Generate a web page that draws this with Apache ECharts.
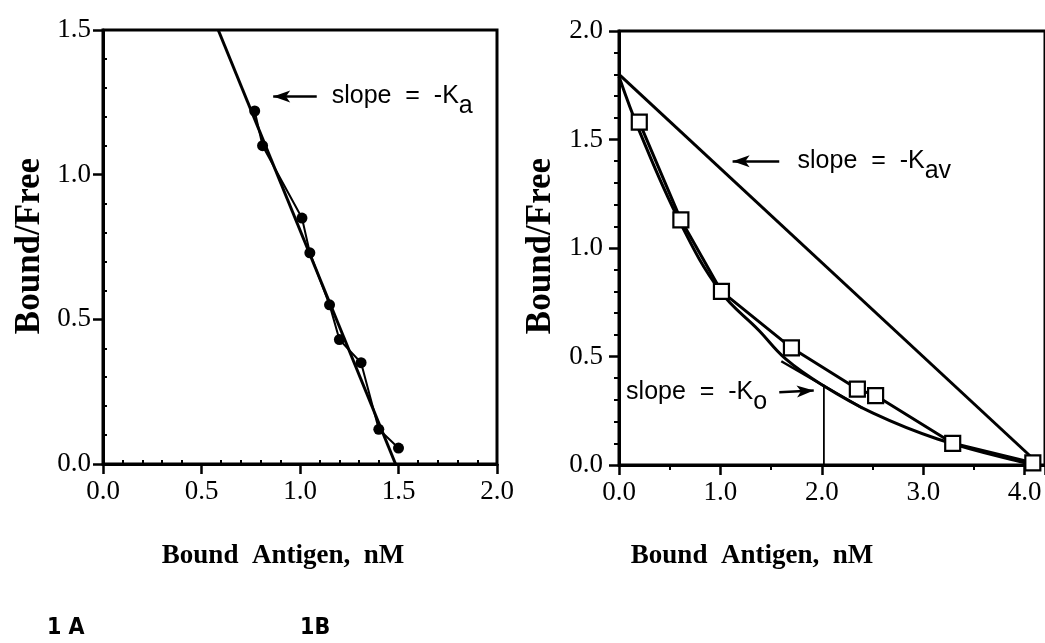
<!DOCTYPE html>
<html>
<head>
<meta charset="utf-8">
<script src="https://cdn.jsdelivr.net/npm/echarts@6/dist/echarts.min.js"></script>
<style>
html,body{margin:0;padding:0;background:#fff;}
#c{width:1045px;height:643px;}
</style>
</head>
<body>
<div id="c"></div>
<script>
// ---------- Panel 1A data ----------
const aPointsX = [0.77, 0.81, 1.01, 1.05, 1.15, 1.20, 1.31, 1.40, 1.50];
const aPointsY = [1.22, 1.10, 0.85, 0.73, 0.55, 0.43, 0.35, 0.12, 0.055];
const aFitX = [0.585, 1.485];
const aFitY = [1.5, 0.0];
const aXTicks = ['0.0', '0.5', '1.0', '1.5', '2.0'];
const aYTicks = ['0.0', '0.5', '1.0', '1.5'];

// ---------- Panel 1B data ----------
const bPointsX = [0.20, 0.61, 1.01, 1.70, 2.35, 2.53, 3.29, 4.08];
const bPointsY = [1.58, 1.13, 0.80, 0.54, 0.35, 0.32, 0.10, 0.01];
const bCurveX = [0.0, 0.2, 0.6, 1.0, 1.38, 1.64, 2.0, 2.5, 3.14, 4.0, 4.15];
const bCurveY = [1.79, 1.54, 1.12, 0.80, 0.62, 0.49, 0.37, 0.24, 0.12, 0.01, 0.0];
const bKavX = [0.0, 4.15];
const bKavY = [1.80, 0.0];
const bTangentX = [1.60, 2.40];
const bTangentY = [0.478, 0.262];
const bVertX = [2.02, 2.02];
const bVertY = [0.37, 0.0];
const bXTicks = ['0.0', '1.0', '2.0', '3.0', '4.0'];
const bYTicks = ['0.0', '0.5', '1.0', '1.5', '2.0'];

// ---------- annotations (data coordinates) ----------
const aArrow = [[0.864, 1.27], [1.085, 1.27]];
const aLabelPos = [1.161, 1.27];
const bKavArrow = [[1.12, 1.40], [1.58, 1.40]];
const bKavLabelPos = [1.76, 1.40];
const bKoArrow = [[1.92, 0.343], [1.58, 0.335]];
const bKoLabelPos = [0.07, 0.335];

const zip = (xs, ys) => xs.map((x, i) => [x, ys[i]]);
const fmt = (arr, step) => v => {
  const i = Math.round(v / step);
  return (Math.abs(v - i * step) < 1e-6 && arr[i] !== undefined) ? arr[i] : '';
};

const serif = 'Liberation Serif';
const sans = 'Liberation Sans';
const lineStyle = {color: '#000', width: 3};
const labelStyle = {color: '#000', fontFamily: serif, fontSize: 27};

const chart = echarts.init(document.getElementById('c'), null, {renderer: 'canvas'});

const option = {
  animation: false,
  backgroundColor: '#fff',
  grid: [
    {left: 103, top: 30, width: 394, height: 434, show: true, borderColor: '#000', borderWidth: 3, containLabel: false},
    {left: 619, top: 31, width: 429.5, height: 434, show: true, borderColor: '#000', borderWidth: 3, containLabel: false}
  ],
  xAxis: [
    {gridIndex: 0, type: 'value', position: 'bottom', min: 0, max: 2, interval: 0.5,
      axisLine: {lineStyle: lineStyle}, splitLine: {show: false},
      axisTick: {show: true, length: 10, lineStyle: {color: '#000', width: 2.5}},
      axisLabel: Object.assign({margin: 14, formatter: fmt(aXTicks, 0.5)}, labelStyle)},
    {gridIndex: 0, type: 'value', position: 'bottom', min: 0, max: 2, interval: 0.5,
      axisLine: {show: false}, splitLine: {show: false}, axisLabel: {show: false},
      axisTick: {show: false, inside: true},
      minorTick: {show: true, splitNumber: 5, length: 4, lineStyle: {color: '#000', width: 2}}},
    {gridIndex: 1, type: 'value', position: 'bottom', min: 0, max: 4.2, interval: 1,
      axisLine: {lineStyle: lineStyle}, splitLine: {show: false},
      axisTick: {show: true, length: 10, lineStyle: {color: '#000', width: 2.5}},
      minorTick: {show: true, splitNumber: 2, length: 5, lineStyle: {color: '#000', width: 2}},
      axisLabel: Object.assign({margin: 14, showMaxLabel: false, formatter: fmt(bXTicks, 1)}, labelStyle)}
  ],
  yAxis: [
    {gridIndex: 0, type: 'value', position: 'left', min: 0, max: 1.5, interval: 0.5,
      axisLine: {lineStyle: lineStyle}, splitLine: {show: false},
      axisTick: {show: true, length: 10, lineStyle: {color: '#000', width: 2.5}},
      axisLabel: Object.assign({margin: 12, formatter: fmt(aYTicks, 0.5)}, labelStyle)},
    {gridIndex: 0, type: 'value', position: 'left', min: 0, max: 1.5, interval: 0.5,
      axisLine: {show: false}, splitLine: {show: false}, axisLabel: {show: false},
      axisTick: {show: false, inside: true},
      minorTick: {show: true, splitNumber: 5, length: 4, lineStyle: {color: '#000', width: 2}}},
    {gridIndex: 1, type: 'value', position: 'left', min: 0, max: 2, interval: 0.5,
      axisLine: {lineStyle: lineStyle}, splitLine: {show: false},
      axisTick: {show: true, length: 10, lineStyle: {color: '#000', width: 2.5}},
      minorTick: {show: true, splitNumber: 5, length: 5, lineStyle: {color: '#000', width: 2}},
      axisLabel: Object.assign({margin: 16, formatter: fmt(bYTicks, 0.5)}, labelStyle)}
  ],
  series: [
    {type: 'line', xAxisIndex: 0, yAxisIndex: 0, data: zip(aFitX, aFitY), showSymbol: false,
      lineStyle: {color: '#000', width: 3}, z: 3,
      markLine: {silent: true, label: {show: false}, symbolSize: [9, 17],
        lineStyle: {color: '#000', width: 2.5, type: 'solid'},
        data: [[{coord: aArrow[0], symbol: 'arrow'}, {coord: aArrow[1], symbol: 'none'}]]}},
    {type: 'line', xAxisIndex: 0, yAxisIndex: 0, data: zip(aPointsX, aPointsY),
      symbol: 'circle', symbolSize: 11, itemStyle: {color: '#000'},
      lineStyle: {color: '#000', width: 2}, z: 4},
    {type: 'line', xAxisIndex: 2, yAxisIndex: 2, data: zip(bKavX, bKavY), showSymbol: false,
      lineStyle: {color: '#000', width: 3}, z: 3,
      markLine: {silent: true, label: {show: false}, symbolSize: [9, 17],
        lineStyle: {color: '#000', width: 2.5, type: 'solid'},
        data: [
          [{coord: bKavArrow[0], symbol: 'arrow'}, {coord: bKavArrow[1], symbol: 'none'}],
          [{coord: bKoArrow[0], symbol: 'arrow'}, {coord: bKoArrow[1], symbol: 'none'}]
        ]}},
    {type: 'line', xAxisIndex: 2, yAxisIndex: 2, data: zip(bCurveX, bCurveY), showSymbol: false,
      smooth: 0.4, lineStyle: {color: '#000', width: 3}, z: 3},
    {type: 'line', xAxisIndex: 2, yAxisIndex: 2, data: zip(bTangentX, bTangentY), showSymbol: false,
      lineStyle: {color: '#000', width: 2.5}, z: 3},
    {type: 'line', xAxisIndex: 2, yAxisIndex: 2, data: zip(bVertX, bVertY), showSymbol: false,
      lineStyle: {color: '#000', width: 1.8}, z: 3},
    {type: 'line', xAxisIndex: 2, yAxisIndex: 2, data: zip(bPointsX, bPointsY),
      symbol: 'rect', symbolSize: 15, showAllSymbol: true,
      itemStyle: {color: '#fff', borderColor: '#000', borderWidth: 2.2},
      lineStyle: {color: '#000', width: 3}, z: 4}
  ]
};
chart.setOption(option);

function px(gridIndex, pt) {
  return chart.convertToPixel({gridIndex: gridIndex}, pt);
}
const slopeRich = {s: {fontFamily: sans, fontSize: 25, padding: [20, 0, 0, 0], fill: '#000'}};
function slopeText(pos, text) {
  return {type: 'text', x: pos[0], y: pos[1], silent: true,
    style: {text: text, fontFamily: sans, fontSize: 25, fill: '#000',
      align: 'left', verticalAlign: 'middle', rich: slopeRich}};
}
const pA = px(0, aLabelPos);
const pKav = px(1, bKavLabelPos);
const pKo = px(1, bKoLabelPos);
const panelFont = '"Liberation Sans Narrow", "DejaVu Sans Condensed", "Liberation Sans", sans-serif';

chart.setOption({
  graphic: [
    slopeText(pA, 'slope  =  -K{s|a}'),
    slopeText(pKav, 'slope  =  -K{s|av}'),
    slopeText(pKo, 'slope  =  -K{s|o}'),
    {type: 'text', x: 30, y: 246, rotation: Math.PI / 2, silent: true,
      style: {text: 'Bound/Free', fontFamily: serif, fontWeight: 'bold', fontSize: 35, fill: '#000', align: 'center', verticalAlign: 'middle'}},
    {type: 'text', x: 541, y: 246, rotation: Math.PI / 2, silent: true,
      style: {text: 'Bound/Free', fontFamily: serif, fontWeight: 'bold', fontSize: 35, fill: '#000', align: 'center', verticalAlign: 'middle'}},
    {type: 'text', x: 283, y: 556, silent: true,
      style: {text: 'Bound  Antigen,  nM', fontFamily: serif, fontWeight: 'bold', fontSize: 27, fill: '#000', align: 'center', verticalAlign: 'middle'}},
    {type: 'text', x: 752, y: 556, silent: true,
      style: {text: 'Bound  Antigen,  nM', fontFamily: serif, fontWeight: 'bold', fontSize: 27, fill: '#000', align: 'center', verticalAlign: 'middle'}},
    {type: 'text', x: 47, y: 628, silent: true,
      style: {text: '1 A', fontFamily: panelFont, fontWeight: 'bold', fontSize: 23, fill: '#000', align: 'left', verticalAlign: 'middle'}},
    {type: 'text', x: 300, y: 628, silent: true,
      style: {text: '1B', fontFamily: panelFont, fontWeight: 'bold', fontSize: 23, fill: '#000', align: 'left', verticalAlign: 'middle'}}
  ]
});
</script>
</body>
</html>
